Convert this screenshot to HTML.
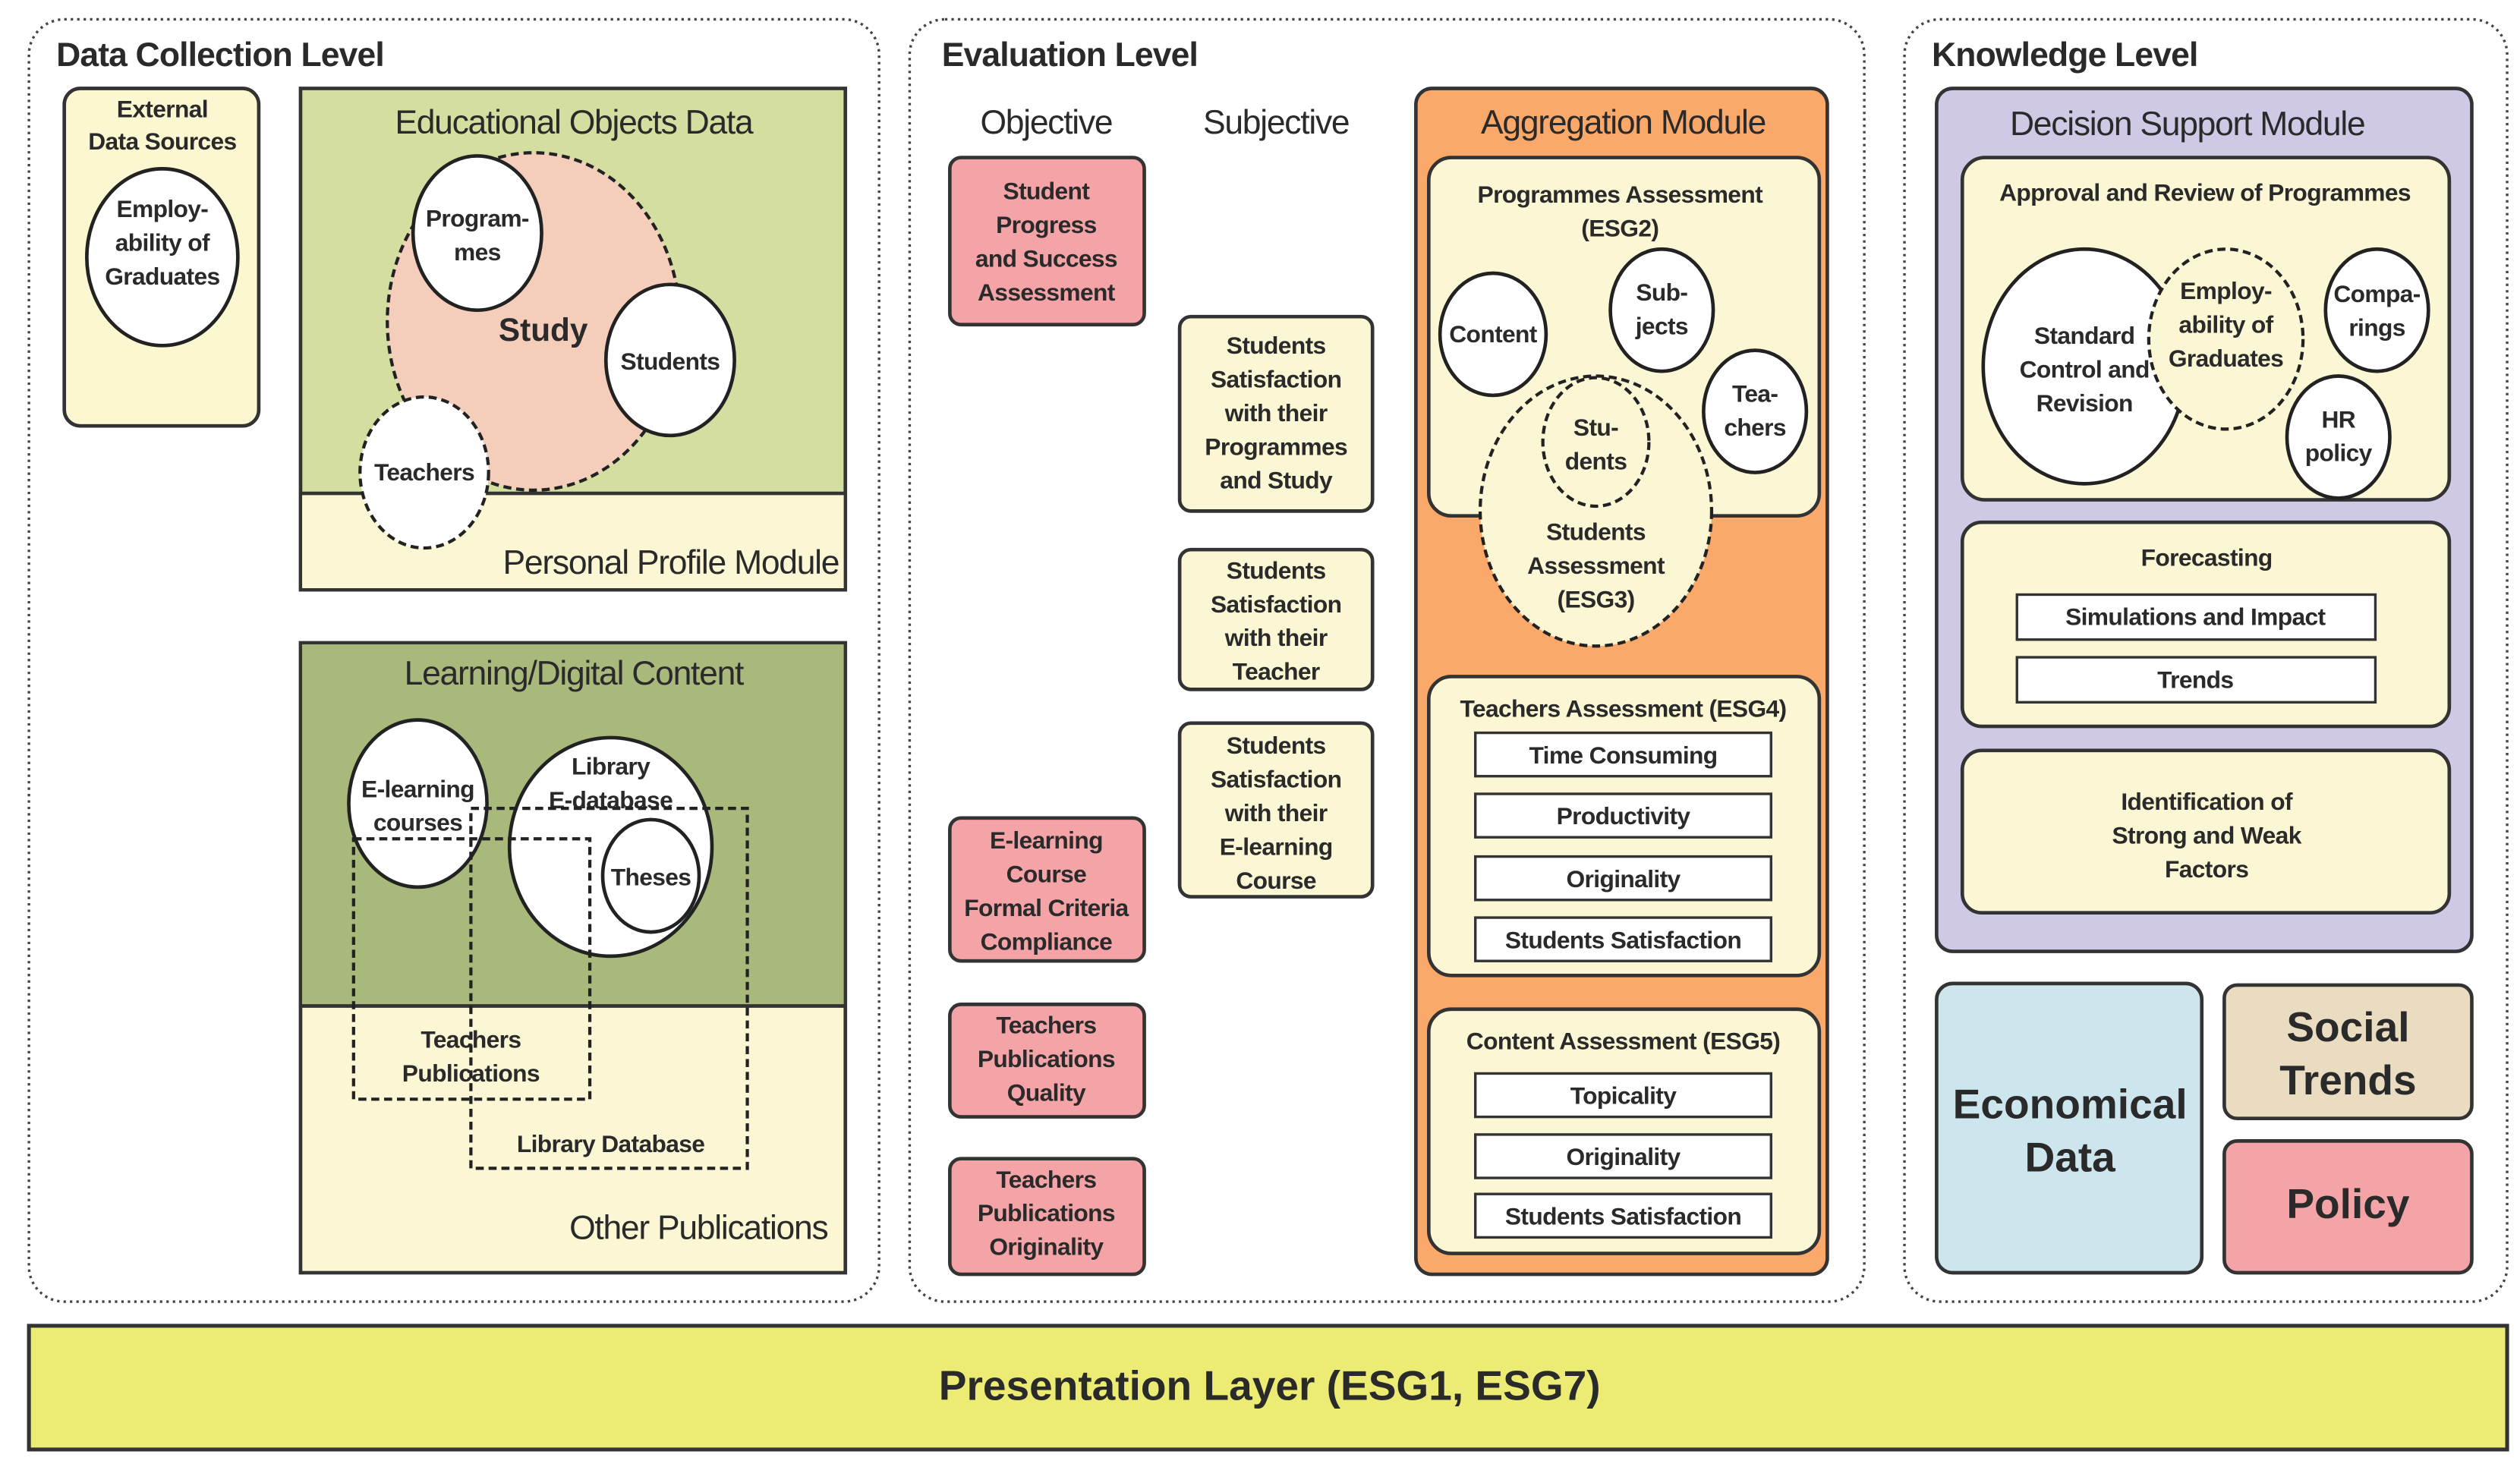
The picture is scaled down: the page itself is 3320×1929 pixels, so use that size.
<!DOCTYPE html>
<html><head><meta charset="utf-8"><style>
html,body{margin:0;padding:0;background:#fff;width:3320px;height:1929px;overflow:hidden}
svg{display:block}
text{font-family:"Liberation Sans",sans-serif;fill:#2a2a2a;text-anchor:middle}
.b{font-weight:bold;font-size:15px;letter-spacing:-0.3px}
.t{font-size:21px;letter-spacing:-0.6px}
.h{font-weight:bold;font-size:21px;text-anchor:start;letter-spacing:-0.4px}
.dot{fill:none;stroke:#444;stroke-width:1.6;stroke-dasharray:1.5 2.5}
.box{stroke:#333;stroke-width:2.2}
.c{fill:#fff;stroke:#222;stroke-width:2.2}
.dc{stroke:#222;stroke-width:2;stroke-dasharray:5 3}
.w{fill:#fff;stroke:#333;stroke-width:1.6}
</style></head><body>
<svg width="3320" height="1929" viewBox="0 0 1568 911" xmlns="http://www.w3.org/2000/svg">
<rect class="dot" x="18" y="12" width="529" height="798" rx="22"/>
<rect class="dot" x="566" y="12" width="594" height="798" rx="22"/>
<rect class="dot" x="1185" y="12" width="375" height="798" rx="22"/>
<text class="h" x="35" y="41">Data Collection Level</text>
<text class="h" x="586" y="41">Evaluation Level</text>
<text class="h" x="1202" y="41">Knowledge Level</text>

<rect class="box" x="40" y="55" width="121" height="210" rx="10" fill="#fbf7d0"/>
<text class="b" x="101" y="73">External</text>
<text class="b" x="101" y="93">Data Sources</text>
<ellipse class="c" cx="101" cy="160" rx="47" ry="55"/>
<text class="b" x="101" y="135">Employ-</text>
<text class="b" x="101" y="156">ability of</text>
<text class="b" x="101" y="177">Graduates</text>

<rect x="187" y="55" width="339" height="312" fill="#d4dea0" class="box"/>
<rect x="188" y="307" width="337" height="59" fill="#fbf7d4"/>
<line x1="187" y1="307" x2="526" y2="307" stroke="#333" stroke-width="2.2"/>
<text class="t" x="357" y="83">Educational Objects Data</text>
<ellipse class="dc" cx="332" cy="200" rx="91" ry="105" fill="#f4cdbb"/>
<ellipse class="c" cx="297" cy="145" rx="40" ry="48"/>
<text class="b" x="297" y="141">Program-</text>
<text class="b" x="297" y="162">mes</text>
<ellipse class="c" cx="417" cy="224" rx="40" ry="47"/>
<text class="b" x="417" y="230">Students</text>
<ellipse class="dc" cx="264" cy="294" rx="40" ry="47" fill="#fff"/>
<text class="b" x="264" y="299">Teachers</text>
<text x="338" y="212" style="font-weight:bold;font-size:20px">Study</text>
<text class="t" x="522" y="357" style="text-anchor:end">Personal Profile Module</text>

<rect x="187" y="400" width="339" height="392" fill="#fbf7d4" class="box"/>
<rect x="188" y="401" width="337" height="225" fill="#a9b97b"/>
<line x1="187" y1="626" x2="526" y2="626" stroke="#333" stroke-width="2.2"/>
<text class="t" x="357" y="426">Learning/Digital Content</text>
<ellipse class="c" cx="260" cy="500" rx="43" ry="52"/>
<text class="b" x="260" y="496">E-learning</text>
<text class="b" x="260" y="517">courses</text>
<ellipse class="c" cx="380" cy="527" rx="63" ry="68"/>
<text class="b" x="380" y="482">Library</text>
<text class="b" x="380" y="503">E-database</text>
<ellipse class="c" cx="405" cy="545" rx="30" ry="35"/>
<text class="b" x="405" y="551">Theses</text>
<rect x="220" y="522" width="147" height="162" fill="none" stroke="#222" stroke-width="2" stroke-dasharray="5 3"/>
<rect x="293" y="503" width="172" height="224" fill="none" stroke="#222" stroke-width="2" stroke-dasharray="5 3"/>
<text class="b" x="293" y="652">Teachers</text>
<text class="b" x="293" y="673">Publications</text>
<text class="b" x="380" y="717">Library Database</text>
<text class="t" x="515" y="771" style="text-anchor:end">Other Publications</text>

<text class="t" x="651" y="83">Objective</text>
<text class="t" x="794" y="83">Subjective</text>
<g fill="#f4a3a7">
<rect class="box" x="591" y="98" width="121" height="104" rx="7"/>
<rect class="box" x="591" y="509" width="121" height="89" rx="7"/>
<rect class="box" x="591" y="625" width="121" height="70" rx="7"/>
<rect class="box" x="591" y="721" width="121" height="72" rx="7"/>
</g>
<text class="b" x="651" y="124">Student</text><text class="b" x="651" y="145">Progress</text><text class="b" x="651" y="166">and Success</text><text class="b" x="651" y="187">Assessment</text>
<text class="b" x="651" y="528">E-learning</text><text class="b" x="651" y="549">Course</text><text class="b" x="651" y="570">Formal Criteria</text><text class="b" x="651" y="591">Compliance</text>
<text class="b" x="651" y="643">Teachers</text><text class="b" x="651" y="664">Publications</text><text class="b" x="651" y="685">Quality</text>
<text class="b" x="651" y="739">Teachers</text><text class="b" x="651" y="760">Publications</text><text class="b" x="651" y="781">Originality</text>
<g fill="#fbf7d4">
<rect class="box" x="734" y="197" width="120" height="121" rx="7"/>
<rect class="box" x="734" y="342" width="120" height="87" rx="7"/>
<rect class="box" x="734" y="450" width="120" height="108" rx="7"/>
</g>
<text class="b" x="794" y="220">Students</text><text class="b" x="794" y="241">Satisfaction</text><text class="b" x="794" y="262">with their</text><text class="b" x="794" y="283">Programmes</text><text class="b" x="794" y="304">and Study</text>
<text class="b" x="794" y="360">Students</text><text class="b" x="794" y="381">Satisfaction</text><text class="b" x="794" y="402">with their</text><text class="b" x="794" y="423">Teacher</text>
<text class="b" x="794" y="469">Students</text><text class="b" x="794" y="490">Satisfaction</text><text class="b" x="794" y="511">with their</text><text class="b" x="794" y="532">E-learning</text><text class="b" x="794" y="553">Course</text>

<rect class="box" x="881" y="55" width="256" height="738" rx="10" fill="#fba96a"/>
<text class="t" x="1010" y="83">Aggregation Module</text>
<rect class="box" x="889" y="98" width="243" height="223" rx="14" fill="#fbf7d4"/>
<text class="b" x="1008" y="126">Programmes Assessment</text>
<text class="b" x="1008" y="147">(ESG2)</text>
<ellipse class="c" cx="929" cy="208" rx="33" ry="38"/><text class="b" x="929" y="213">Content</text>
<ellipse class="c" cx="1034" cy="193" rx="32" ry="38"/><text class="b" x="1034" y="187">Sub-</text><text class="b" x="1034" y="208">jects</text>
<ellipse class="c" cx="1092" cy="256" rx="32" ry="38"/><text class="b" x="1092" y="250">Tea-</text><text class="b" x="1092" y="271">chers</text>
<ellipse class="dc" cx="993" cy="318" rx="72" ry="84" fill="#fbf7d4"/>
<ellipse class="dc" cx="993" cy="275" rx="33" ry="40" fill="#fbf7d4"/>
<text class="b" x="993" y="271">Stu-</text><text class="b" x="993" y="292">dents</text>
<text class="b" x="993" y="336">Students</text><text class="b" x="993" y="357">Assessment</text><text class="b" x="993" y="378">(ESG3)</text>

<rect class="box" x="889" y="421" width="243" height="186" rx="14" fill="#fbf7d4"/>
<text class="b" x="1010" y="446">Teachers Assessment (ESG4)</text>
<rect class="w" x="918" y="456" width="184" height="27"/><rect class="w" x="918" y="494" width="184" height="27"/>
<rect class="w" x="918" y="533" width="184" height="27"/><rect class="w" x="918" y="571" width="184" height="27"/>
<text class="b" x="1010" y="475">Time Consuming</text>
<text class="b" x="1010" y="513">Productivity</text>
<text class="b" x="1010" y="552">Originality</text>
<text class="b" x="1010" y="590">Students Satisfaction</text>
<rect class="box" x="889" y="628" width="243" height="152" rx="14" fill="#fbf7d4"/>
<text class="b" x="1010" y="653">Content Assessment (ESG5)</text>
<rect class="w" x="918" y="668" width="184" height="27"/><rect class="w" x="918" y="706" width="184" height="27"/>
<rect class="w" x="918" y="743" width="184" height="27"/>
<text class="b" x="1010" y="687">Topicality</text>
<text class="b" x="1010" y="725">Originality</text>
<text class="b" x="1010" y="762">Students Satisfaction</text>

<rect class="box" x="1205" y="55" width="333" height="537" rx="10" fill="#cfc9e6"/>
<text class="t" x="1361" y="84">Decision Support Module</text>
<rect class="box" x="1221" y="98" width="303" height="213" rx="14" fill="#fbf7d4"/>
<text class="b" x="1372" y="125">Approval and Review of Programmes</text>
<ellipse class="c" cx="1297" cy="228" rx="63" ry="73"/>
<text class="b" x="1297" y="214">Standard</text><text class="b" x="1297" y="235">Control and</text><text class="b" x="1297" y="256">Revision</text>
<ellipse class="dc" cx="1385" cy="211" rx="48" ry="56" fill="#fbf7d4"/>
<text class="b" x="1385" y="186">Employ-</text><text class="b" x="1385" y="207">ability of</text><text class="b" x="1385" y="228">Graduates</text>
<ellipse class="c" cx="1479" cy="193" rx="32" ry="38"/><text class="b" x="1479" y="188">Compa-</text><text class="b" x="1479" y="209">rings</text>
<ellipse class="c" cx="1455" cy="272" rx="32" ry="38"/><text class="b" x="1455" y="266">HR</text><text class="b" x="1455" y="287">policy</text>
<rect class="box" x="1221" y="325" width="303" height="127" rx="12" fill="#fbf7d4"/>
<text class="b" x="1373" y="352">Forecasting</text>
<rect class="w" x="1255" y="370" width="223" height="28"/>
<rect class="w" x="1255" y="409" width="223" height="28"/>
<text class="b" x="1366" y="389">Simulations and Impact</text>
<text class="b" x="1366" y="428">Trends</text>
<rect class="box" x="1221" y="467" width="303" height="101" rx="12" fill="#fbf7d4"/>
<text class="b" x="1373" y="504">Identification of</text><text class="b" x="1373" y="525">Strong and Weak</text><text class="b" x="1373" y="546">Factors</text>

<rect class="box" x="1205" y="612" width="165" height="180" rx="10" fill="#cde5ed"/>
<text x="1288" y="696" style="font-weight:bold;font-size:26px">Economical</text>
<text x="1288" y="729" style="font-weight:bold;font-size:26px">Data</text>
<rect class="box" x="1384" y="613" width="154" height="83" rx="8" fill="#e9dcc0"/>
<text x="1461" y="648" style="font-weight:bold;font-size:26px">Social</text>
<text x="1461" y="681" style="font-weight:bold;font-size:26px">Trends</text>
<rect class="box" x="1384" y="710" width="154" height="82" rx="8" fill="#f4a3a7"/>
<text x="1461" y="758" style="font-weight:bold;font-size:26px">Policy</text>

<rect x="18" y="825" width="1542" height="77" fill="#ecec74" stroke="#333" stroke-width="2.4"/>
<text x="790" y="871" style="font-weight:bold;font-size:26px">Presentation Layer (ESG1, ESG7)</text>
</svg>
</body></html>
